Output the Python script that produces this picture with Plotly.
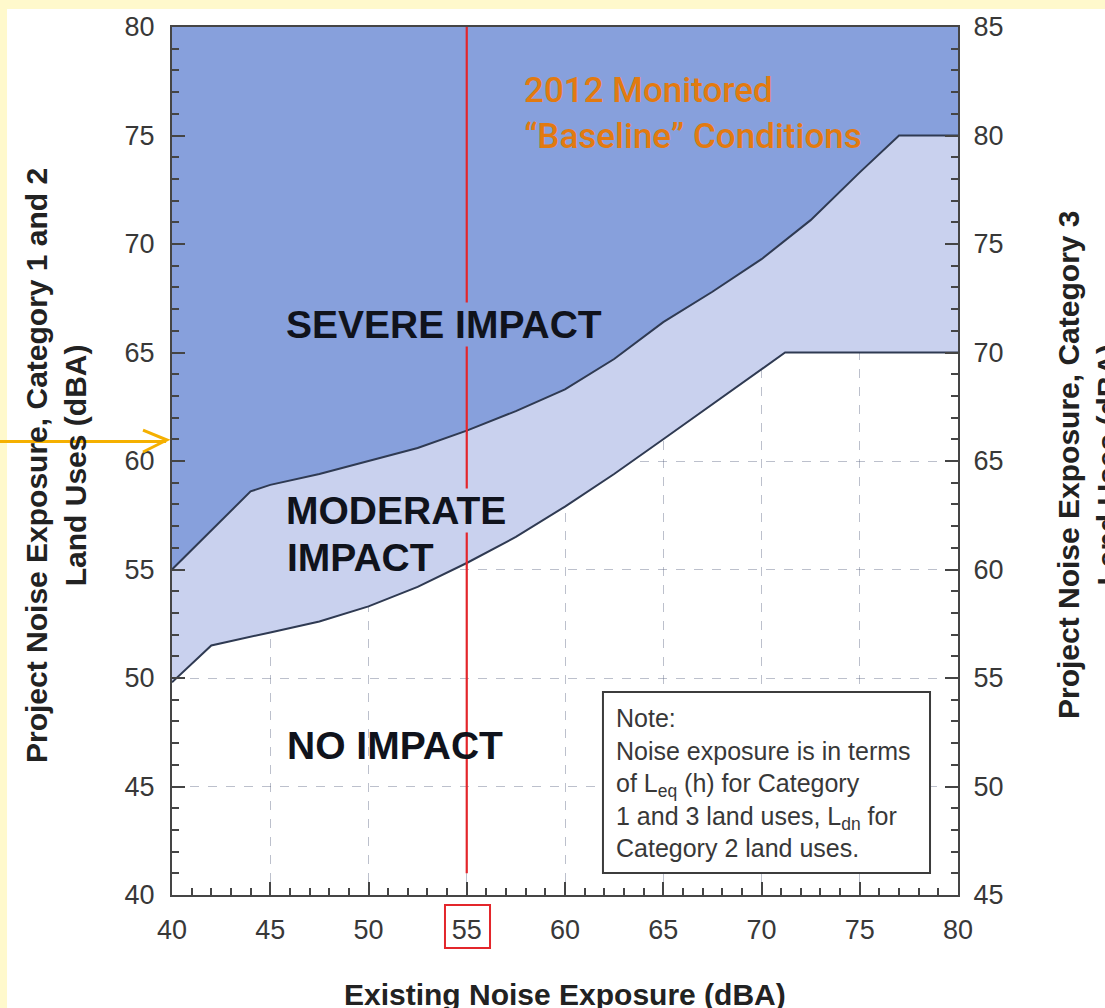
import plotly.graph_objects as go

# Existing noise exposure (dBA) and impact thresholds, Category 1 and 2 land uses
SEVERE_X = [40, 44, 45, 47.5, 50, 52.5, 55, 57.5, 60, 62.5, 65, 67.5, 70, 72.5, 75, 77, 80]
SEVERE_Y = [55, 58.6, 58.9, 59.4, 60.0, 60.6, 61.4, 62.3, 63.3, 64.7, 66.4, 67.8, 69.3, 71.1, 73.3, 75, 75]
MODERATE_X = [40, 42, 45, 47.5, 50, 52.5, 55, 57.5, 60, 62.5, 65, 67.5, 70, 71.2, 80]
MODERATE_Y = [49.8, 51.5, 52.1, 52.6, 53.3, 54.2, 55.3, 56.5, 57.9, 59.4, 61.0, 62.6, 64.2, 65, 65]

X_RANGE = [40, 80]
Y_RANGE = [40, 80]            # Category 1 and 2 scale
Y2_RANGE = [45, 85]           # Category 3 scale
X_TICKS = [40, 45, 50, 55, 60, 65, 70, 75, 80]
Y_TICKS = [40, 45, 50, 55, 60, 65, 70, 75, 80]
Y2_TICKS = [45, 50, 55, 60, 65, 70, 75, 80, 85]
BASELINE_DBA = 55             # 2012 monitored baseline
BASELINE_Y_START = 41
ARROW_LEVEL = 60.9

SEVERE_FILL = "#87A0DC"
MODERATE_FILL = "#C9D1EE"
EDGE = "#2F3A52"
AXIS = "#454545"
TICK_FONT = dict(family="Liberation Sans, Arial, sans-serif", size=27, color="#383838")
TITLE_FONT = dict(family="Liberation Sans, Arial, sans-serif", size=30, color="#222222")
LABEL_FONT = dict(family="Liberation Sans, Arial, sans-serif", size=39, color="#10131C")

fig = go.Figure()

# lower boundary (no impact / moderate)
fig.add_trace(go.Scatter(x=MODERATE_X, y=MODERATE_Y, mode="lines",
                         line=dict(color=EDGE, width=2), hoverinfo="skip", showlegend=False))
# moderate band between the two thresholds
fig.add_trace(go.Scatter(x=SEVERE_X, y=SEVERE_Y, mode="lines", fill="tonexty",
                         fillcolor=MODERATE_FILL, line=dict(color=EDGE, width=2),
                         hoverinfo="skip", showlegend=False))
# severe band up to the top of the scale
fig.add_trace(go.Scatter(x=X_RANGE, y=[Y_RANGE[1], Y_RANGE[1]], mode="lines", fill="tonexty",
                         fillcolor=SEVERE_FILL, line=dict(color=EDGE, width=0),
                         hoverinfo="skip", showlegend=False))
# invisible trace to activate the right-hand axis
fig.add_trace(go.Scatter(x=X_RANGE, y=Y2_RANGE, yaxis="y2", mode="markers",
                         marker=dict(opacity=0), hoverinfo="skip", showlegend=False))

grid = dict(showgrid=True, gridcolor="rgba(80,90,120,0.38)", griddash="dash", gridwidth=1)
minor = dict(dtick=1, ticks="inside", ticklen=7, tickcolor=AXIS, tickwidth=1.5, showgrid=False)

fig.update_layout(
    width=1105, height=1008,
    margin=dict(l=172, r=147, t=27, b=113),
    paper_bgcolor="#FFF9CC",
    plot_bgcolor="white",
    showlegend=False,
    xaxis=dict(range=X_RANGE, tickvals=X_TICKS, ticks="inside", ticklen=13, tickwidth=1.5,
               tickcolor=AXIS, showline=True, linecolor=AXIS, linewidth=2, mirror=True,
               tickfont=TICK_FONT, ticklabelstandoff=10, zeroline=False, layer="above traces",
               minor=minor, **grid),
    yaxis=dict(range=Y_RANGE, tickvals=Y_TICKS, ticks="inside", ticklen=13, tickwidth=1.5,
               tickcolor=AXIS, showline=True, linecolor=AXIS, linewidth=2,
               tickfont=TICK_FONT, ticklabelstandoff=10, zeroline=False, layer="above traces",
               minor=minor, **grid),
    yaxis2=dict(range=Y2_RANGE, tickvals=Y2_TICKS, overlaying="y", side="right",
                ticks="inside", ticklen=13, tickwidth=1.5, tickcolor=AXIS,
                showline=True, linecolor=AXIS, linewidth=2, showgrid=False,
                tickfont=TICK_FONT, ticklabelstandoff=8, zeroline=False,
                layer="above traces", minor=minor),
)

shapes = [
    # white page panel over the yellow border
    dict(type="rect", xref="paper", yref="paper", x0=-0.2099, x1=1.19, y0=-0.14, y1=1.0207,
         fillcolor="white", line=dict(width=0), layer="below"),
    # baseline marker line
    dict(type="line", xref="x", yref="y", x0=BASELINE_DBA, x1=BASELINE_DBA,
         y0=BASELINE_Y_START, y1=Y_RANGE[1], line=dict(color="#E3262B", width=2.2)),
    # box around the baseline tick label
    dict(type="rect", xref="paper", yref="paper", x0=0.3473, x1=0.4046, y0=-0.0611, y1=-0.0115,
         line=dict(color="#E3262B", width=2)),
    # note box
    dict(type="rect", xref="paper", yref="paper", x0=0.5483, x1=0.9644, y0=0.0253, y1=0.2339,
         fillcolor="white", line=dict(color="#3C3C3C", width=2)),
    # pointer arrow toward the left scale
    dict(type="line", xref="paper", yref="y", x0=-0.23, x1=-0.0075, y0=ARROW_LEVEL, y1=ARROW_LEVEL,
         line=dict(color="#F5B000", width=3)),
    dict(type="path", xref="paper", yref="paper",
         path="M -0.0369 0.5357 L -0.0065 0.5242 L -0.0369 0.5104",
         line=dict(color="#F5B000", width=3)),
]
fig.update_layout(shapes=shapes)

annotations = [
    dict(x=45.75, y=66.3, xref="x", yref="y", text="<b>SEVERE IMPACT</b>", showarrow=False,
         xanchor="left", yanchor="middle", font=LABEL_FONT, bgcolor=SEVERE_FILL, borderpad=0),
    dict(x=45.75, y=57.7, xref="x", yref="y", text="<b>MODERATE</b>", showarrow=False,
         xanchor="left", yanchor="middle", font=LABEL_FONT, bgcolor=MODERATE_FILL, borderpad=0),
    dict(x=45.75, y=55.55, xref="x", yref="y", text="<b>IMPACT</b>", showarrow=False,
         xanchor="left", yanchor="middle", font=LABEL_FONT),
    dict(x=45.75, y=46.9, xref="x", yref="y", text="<b>NO IMPACT</b>", showarrow=False,
         xanchor="left", yanchor="middle", font=LABEL_FONT),
    dict(x=57.8, y=76.0, xref="x", yref="y",
         text="2012 Monitored<br>\u201cBaseline\u201d Conditions", showarrow=False,
         xanchor="left", yanchor="middle", align="left",
         font=dict(family="Roboto, Liberation Sans, Arial, sans-serif", size=35,
                   color="#E27A10", weight=500)),
    dict(x=0.5618, y=0.1296, xref="paper", yref="paper",
         text=("Note:<br>Noise exposure is in terms<br>of L<sub>eq</sub> (h) for Category"
               "<br>1 and 3 land uses, L<sub>dn</sub> for<br>Category 2 land uses."),
         showarrow=False, xanchor="left", yanchor="middle", align="left",
         font=dict(family="Liberation Sans, Arial, sans-serif", size=25, color="#383838")),
    dict(x=0.5, y=-0.1152, xref="paper", yref="paper",
         text="<b>Existing Noise Exposure (dBA)</b>", showarrow=False,
         xanchor="center", yanchor="middle", font=TITLE_FONT),
    dict(x=-0.1476, y=0.4954, xref="paper", yref="paper", textangle=-90,
         text="<b>Project Noise Exposure, Category 1 and 2<br>Land Uses (dBA)</b>",
         showarrow=False, xanchor="center", yanchor="middle", font=TITLE_FONT),
    dict(x=1.1654, y=0.4954, xref="paper", yref="paper", textangle=-90,
         text="<b>Project Noise Exposure, Category 3<br>Land Uses (dBA)</b>",
         showarrow=False, xanchor="center", yanchor="middle", font=TITLE_FONT),
]
fig.update_layout(annotations=annotations)

fig.write_html("out.html")
